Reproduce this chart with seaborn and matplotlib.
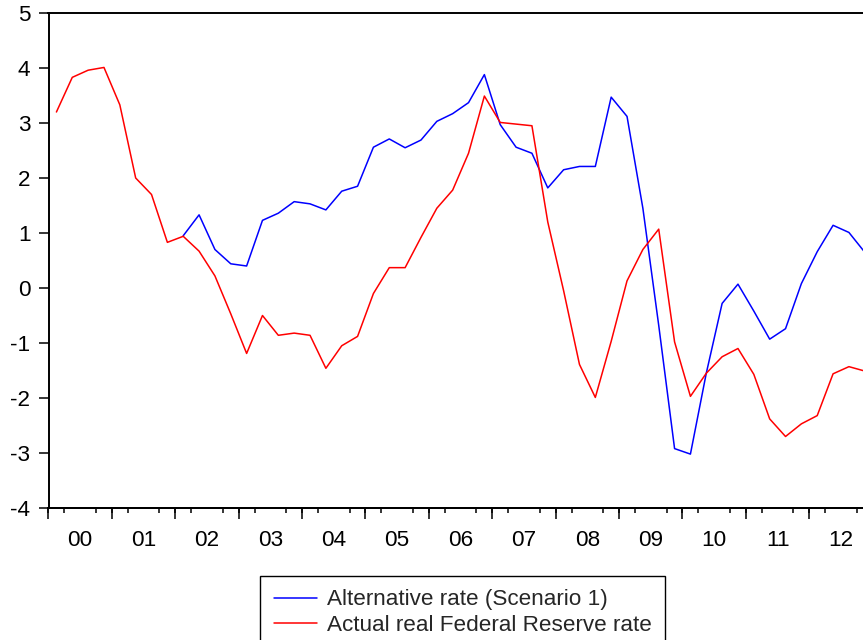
import numpy as np
import pandas as pd
import matplotlib
matplotlib.use("Agg")
import matplotlib.pyplot as plt
import seaborn as sns

# Quarterly data, 2000Q1 - 2012Q4 (percent)
first_year = 2000
actual_rate = [
    3.20, 3.83, 3.96, 4.01,    # 2000
    3.33, 2.00, 1.70, 0.83,    # 2001
    0.94, 0.67, 0.22, -0.47,   # 2002
    -1.19, -0.50, -0.86, -0.82,  # 2003
    -0.86, -1.46, -1.05, -0.88,  # 2004
    -0.10, 0.37, 0.37, 0.92,   # 2005
    1.45, 1.78, 2.45, 3.49,    # 2006
    3.01, 2.98, 2.95, 1.20,    # 2007
    -0.05, -1.39, -1.99, -0.97,  # 2008
    0.13, 0.70, 1.07, -0.98,   # 2009
    -1.97, -1.55, -1.25, -1.10,  # 2010
    -1.57, -2.38, -2.70, -2.47,  # 2011
    -2.32, -1.56, -1.43, -1.51,  # 2012
]

# Scenario series begins in 2002Q1
alternative_start = 8
alternative_rate = [
    0.95, 1.33, 0.70, 0.44,    # 2002
    0.40, 1.23, 1.36, 1.57,    # 2003
    1.53, 1.42, 1.76, 1.85,    # 2004
    2.56, 2.71, 2.55, 2.69,    # 2005
    3.03, 3.17, 3.37, 3.88,    # 2006
    2.97, 2.56, 2.45, 1.82,    # 2007
    2.15, 2.21, 2.21, 3.47,    # 2008
    3.12, 1.45, -0.68, -2.92,  # 2009
    -3.02, -1.55, -0.28, 0.07,  # 2010
    -0.42, -0.93, -0.74, 0.08,  # 2011
    0.66, 1.14, 1.01, 0.65,    # 2012
]

year_labels = ["00", "01", "02", "03", "04", "05", "06",
               "07", "08", "09", "10", "11", "12"]
series_names = ["Alternative rate (Scenario 1)", "Actual real Federal Reserve rate"]
series_colors = ["#0000ff", "#ff0000"]


def quarter_midpoints(start, count):
    return first_year + (np.arange(start, start + count) + 0.5) / 4.0


df = pd.concat([
    pd.DataFrame({"t": quarter_midpoints(alternative_start, len(alternative_rate)),
                  "rate": alternative_rate, "series": series_names[0]}),
    pd.DataFrame({"t": quarter_midpoints(0, len(actual_rate)),
                  "rate": actual_rate, "series": series_names[1]}),
], ignore_index=True)

sns.set_style("ticks")
plt.rcParams["font.family"] = ["Liberation Sans", "DejaVu Sans"]
plt.rcParams["axes.linewidth"] = 1.4
plt.rcParams["axes.unicode_minus"] = False

FS = 16.2
W, H = 863, 640
fig = plt.figure(figsize=(W / 100, H / 100), dpi=100)
fig.patch.set_facecolor("white")
n_years = len(year_labels)
ax = fig.add_axes([48.5 / W, 132 / H, (63.4 * n_years) / W, 495 / H])

sns.lineplot(data=df, x="t", y="rate", hue="series", hue_order=series_names,
             palette=series_colors, linewidth=1.1, estimator=None, sort=False,
             legend=False, ax=ax)

ax.set_xlabel("")
ax.set_ylabel("")
ax.set_xlim(first_year, first_year + n_years)
ax.set_ylim(-4, 5)
for side in ["top", "right", "left", "bottom"]:
    ax.spines[side].set_color("black")
    ax.spines[side].set_linewidth(1.4)

# y axis
ax.set_yticks(np.arange(-4, 6, 1))
ax.tick_params(axis="y", direction="out", length=7.5, width=1.1, pad=5.5,
               labelsize=FS, colors="black")

# x axis: year labels centred in each year, quarter ticks, long year ticks
ax.set_xticks(first_year + np.arange(n_years) + 0.5)
ax.set_xticklabels(year_labels)
ax.set_xticks(first_year + np.arange(0, n_years * 4 + 1) / 4.0, minor=True)
ax.tick_params(axis="x", which="major", length=0, pad=16, labelsize=FS,
               colors="black")
ax.tick_params(axis="x", which="minor", direction="out", length=3.8, width=1.1,
               color="black")

year_axis = ax.secondary_xaxis("bottom")
year_axis.set_xticks(first_year + np.arange(0, n_years + 1))
year_axis.tick_params(axis="x", direction="out", length=8, width=1.1,
                      labelbottom=False, color="black")
year_axis.spines["bottom"].set_linewidth(1.4)
year_axis.spines["bottom"].set_color("black")

leg = fig.legend(handles=ax.lines[:2], labels=series_names, loc="upper left",
                 bbox_to_anchor=(260 / W, 1 - 576 / H), bbox_transform=fig.transFigure,
                 borderaxespad=0, frameon=True, fancybox=False, shadow=False,
                 edgecolor="black", framealpha=1, fontsize=FS,
                 handlelength=1.95, handletextpad=0.42, borderpad=0.6,
                 labelspacing=0.2)
leg.get_frame().set_linewidth(1.0)

fig.savefig("out.png", dpi=100, facecolor="white")
